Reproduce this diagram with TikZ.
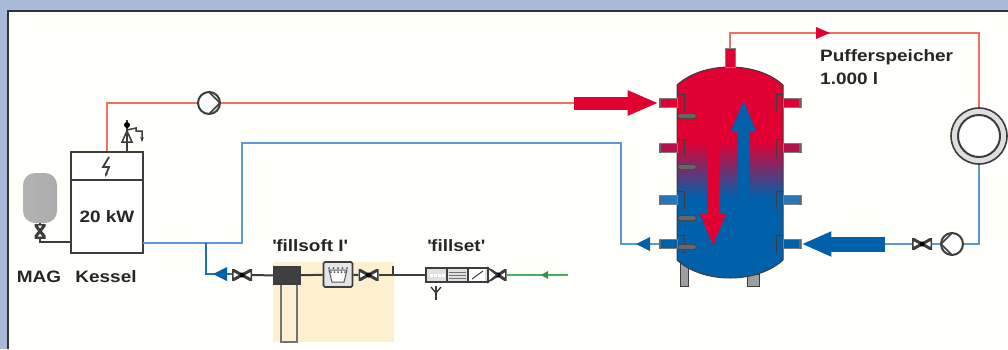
\documentclass[tikz,border=0pt]{standalone}
\usepackage{fontspec}
\setmainfont{Liberation Sans}[FakeStretch=1.15]
\usepackage{tikz}
\usetikzlibrary{shapes, arrows.meta, positioning, backgrounds}
\definecolor{framecol}{RGB}{168,186,216}
\definecolor{creamcol}{RGB}{253,240,207}
\definecolor{linegray}{RGB}{62,60,60}
\definecolor{hotline}{RGB}{240,112,100}
\definecolor{coldline}{RGB}{92,152,212}
\definecolor{hotfill}{RGB}{224,0,50}
\definecolor{coldfill}{RGB}{0,96,170}
\definecolor{greenline}{RGB}{70,180,95}
\tikzstyle{label} = [font=\bfseries\fontsize{16.5}{19}\selectfont, text=black!85, inner sep=0pt]
\tikzstyle{box} = [rectangle, inner sep=0pt, draw=linegray, line width=1.6pt, fill=white]
\tikzstyle{pipe} = [draw=linegray, line width=2pt]
\tikzstyle{hot} = [draw=hotline, line width=1.6pt]
\tikzstyle{cold} = [draw=coldline, line width=1.6pt]
\tikzstyle{port} = [rectangle, minimum width=18pt, minimum height=9pt, inner sep=0pt, draw=gray, line width=.7pt]
\tikzstyle{sleeve} = [rectangle, rounded corners=1.5pt, minimum width=18pt, minimum height=5pt, inner sep=0pt, fill=gray!80!black, draw=linegray, line width=.5pt]
\tikzstyle{foot} = [rectangle, inner sep=0pt, fill=gray!75, draw=linegray, line width=1pt]
\tikzstyle{valve} = [rectangle, minimum width=20pt, minimum height=11pt, inner sep=0pt, path picture={
    \draw[linegray, line width=3pt, fill=white] (path picture bounding box.south west) -- (path picture bounding box.north east) -- (path picture bounding box.south east) -- (path picture bounding box.north west) -- cycle;
    \fill[black] (path picture bounding box.center) circle (2.5pt);}]
\tikzstyle{vvalve} = [rectangle, minimum width=11pt, minimum height=14pt, inner sep=0pt, path picture={
    \draw[linegray, line width=3pt] (path picture bounding box.south west) -- (path picture bounding box.north east) -- (path picture bounding box.north west) -- (path picture bounding box.south east) -- cycle;}]
\tikzstyle{pumpr} = [circle, minimum size=22pt, inner sep=0pt, draw=linegray, line width=2pt, fill=white, path picture={
    \draw[linegray, line width=1.5pt] (path picture bounding box.north) -- (path picture bounding box.east) -- (path picture bounding box.south);}]
\tikzstyle{pumpl} = [circle, minimum size=22pt, inner sep=0pt, draw=linegray, line width=2pt, fill=white, path picture={
    \draw[linegray, line width=1.5pt] (path picture bounding box.north) -- (path picture bounding box.west) -- (path picture bounding box.south);}]
\tikzstyle{coil} = [circle, inner sep=0pt, draw=linegray, line width=1.6pt, fill=white]

\begin{document}
\begin{tikzpicture}[x=1pt, y=-1pt]
    \useasboundingbox (0, 0) rectangle (1008, 349);
    \fill[framecol] (0, 0) rectangle (1008, 349);
    \fill[white!99!yellow] (8, 11) rectangle (1008, 349);
    \draw[black!80, line width=1.5pt] (8, 349) -- (8, 11) -- (1008, 11);
    \fill[creamcol] (273, 262) rectangle (394, 342);

    % boiler and vessel
    \node (boilertop) [box, minimum width=72pt, minimum height=28pt] at (107, 166) {};
    \node (boilerbody) [box, label, draw=linegray, minimum width=72pt, minimum height=73pt] at (107, 216.5) {20 kW};
    \node (vessel) [rectangle, rounded corners=12pt, minimum width=34pt, minimum height=50pt, left color=gray!60, middle color=gray!25, right color=gray!65] at (40, 198) {};
    \node (magvalve) [vvalve] at (40, 231) {};
    \node (maglabel) [label] at (39, 277) {MAG};
    \node (kessellabel) [label] at (106, 277) {Kessel};
    \coordinate (magin) at (71, 242);
    \draw [pipe] (vessel) -- (magvalve);
    \draw [pipe] (magvalve) |- (magin);
    \draw [linegray, line width=1.8pt, -{Stealth[length=4pt]}] (109, 157) -- (103, 167) -- (109, 167) -- (105, 177);

    % vent on the boiler
    \coordinate (ventbase) at (127, 152);
    \coordinate (ventfoot) at (127, 142);
    \coordinate (venttop) at (127, 120);
    \coordinate (ventbend) at (142, 131);
    \coordinate (venttip) at (142, 142);
    \draw [pipe] (ventbase) -- (ventfoot);
    \draw [linegray, line width=1.5pt, fill=white] (122, 142) -- (132, 142) -- (127, 131) -- cycle;
    \draw [pipe] (ventfoot) -- (venttop);
    \fill [black] (127, 125) circle (3pt);
    \draw [linegray, line width=1.5pt, -{Stealth[length=5pt]}] (127, 130) -- (136, 128) -- (136, 131) -- (ventbend) -- (venttip);

    % storage tank
    \node (footl) [foot, minimum width=8pt, minimum height=26pt] at (684, 273) {};
    \node (footr) [foot, minimum width=12pt, minimum height=12pt] at (753, 280) {};
    \begin{scope}
        \clip (677, 85) .. controls (690, 73) and (710, 67) .. (730, 67) .. controls (750, 67) and (770, 73) .. (783, 85) -- (783, 260) .. controls (770, 272) and (750, 278) .. (730, 278) .. controls (710, 278) and (690, 272) .. (677, 260) -- cycle;
        \fill[hotfill] (670, 60) rectangle (790, 142);
        \shade[top color=hotfill, middle color=hotfill!50!gray, bottom color=coldfill] (670, 142) rectangle (790, 198);
        \fill[coldfill] (670, 198) rectangle (790, 285);
    \end{scope}
    \draw[linegray, line width=1pt] (677, 85) .. controls (690, 73) and (710, 67) .. (730, 67) .. controls (750, 67) and (770, 73) .. (783, 85) -- (783, 260) .. controls (770, 272) and (750, 278) .. (730, 278) .. controls (710, 278) and (690, 272) .. (677, 260) -- cycle;
    \node (topstub) [port, fill=hotfill, minimum width=10pt, minimum height=19pt] at (730, 57.5) {};

    \node (portl1) [port, fill=hotfill] at (668, 103) {};
    \node (portl2) [port, fill=hotfill!80!coldfill] at (668, 148) {};
    \node (portl3) [port, fill=coldline!40!coldfill] at (668, 200) {};
    \node (portl4) [port, fill=coldfill] at (668, 244) {};
    \node (portr1) [port, fill=hotfill] at (792, 103) {};
    \node (portr2) [port, fill=hotfill!80!coldfill] at (792, 148) {};
    \node (portr3) [port, fill=coldline!40!coldfill] at (792, 200) {};
    \node (portr4) [port, fill=coldfill] at (792, 244) {};

    \foreach \y in {103, 148, 200, 244} {
        \draw [linegray, line width=1pt] (677, \y-9) -- (684, \y-9) -- (684, \y+9);
        \draw [linegray, line width=1pt] (783, \y-9) -- (776, \y-9) -- (776, \y+9);
        \draw [gray!80!black, line width=2pt] (660, \y-4.5) -- (660, \y+4.5);
        \draw [gray!80!black, line width=2pt] (800, \y-4.5) -- (800, \y+4.5);
    }
    \node (sleeve1) [sleeve] at (687, 116) {};
    \node (sleeve2) [sleeve] at (687, 167) {};
    \node (sleeve3) [sleeve] at (687, 218) {};
    \node (sleeve4) [sleeve] at (687, 247) {};

    \coordinate (downstart) at (713, 142);
    \coordinate (downend) at (713, 247);
    \coordinate (upstart) at (743.5, 198);
    \coordinate (upend) at (743.5, 99);
    \draw [hotfill, line width=12pt, -{Triangle[length=33pt, width=23pt]}] (downstart) -- (downend);
    \draw [coldfill, line width=11pt, -{Triangle[length=33pt, width=23pt]}] (upstart) -- (upend);

    % hot circuit
    \node (pumphot) [pumpr] at (209, 103) {};
    \coordinate (hotin) at (574, 103);
    \coordinate (hotarrow) at (830, 33);
    \node (coilouter) [coil, fill=gray!25, minimum size=56pt] at (979, 136) {};
    \node (coilinner) [coil, line width=2pt, minimum size=42pt] at (979, 136) {};
    \coordinate (coiltop) at (979, 33);
    \draw [hot] (boilertop.north) |- (pumphot);
    \draw [hot] (pumphot) -- (hotin);
    \draw [hotfill, line width=13pt, -{Triangle[length=31pt, width=23pt]}] (hotin) -- (portl1.west);
    \draw [hot] (topstub.north) |- (hotarrow);
    \draw [hot] (hotarrow) -- (coiltop) -- (coilouter.north);
    \fill [hotfill] (816, 27) -- (830, 33) -- (816, 39) -- cycle;
    \node (pufferlabel) [label, anchor=west] at (820, 57) {Pufferspeicher};
    \node (volumelabel) [label, anchor=west] at (820, 79) {1.000 l};

    % cold circuit
    \node (pumpcold) [pumpl] at (952, 244) {};
    \node (valvecold) [valve] at (922, 244) {};
    \coordinate (coldin) at (885, 244);
    \coordinate (coldturn) at (979, 244);
    \draw [cold] (coilouter.south) -- (coldturn) -- (pumpcold);
    \draw [cold] (pumpcold) -- (valvecold);
    \draw [cold] (valvecold) -- (coldin);
    \draw [coldfill, line width=15pt, -{Triangle[length=30pt, width=23pt]}] (coldin) -- (portr4.east);

    \coordinate (boilerout) at (143, 243);
    \coordinate (tee) at (206, 243);
    \coordinate (riser) at (242, 243);
    \coordinate (riserend) at (621, 143);
    \coordinate (returnend) at (621, 244);
    \draw [cold] (boilerout) -- (riser) |- (riserend) -- (returnend) -- (portl4.west);
    \fill [coldfill] (636, 244) -- (650, 237) -- (650, 251) -- cycle;
    \draw [cold, draw=coldfill!70!coldline] (tee) -- (206, 274) -- (232, 274);
    \fill [coldfill] (213, 274) -- (227, 267) -- (227, 281) -- cycle;

    % fill line
    \node (fillvalvea) [valve] at (242, 275) {};
    \node (softtube) [box, fill=none, draw=gray!90!black, line width=2pt, minimum width=16pt, minimum height=58pt] at (288.5, 313) {};
    \node (softhead) [box, fill=black!75, minimum width=26pt, minimum height=17pt] at (287, 275.5) {};
    \node (softmeter) [box, rounded corners=1.5pt, fill=black!10, minimum width=29pt, minimum height=25pt] at (338, 274.5) {};
    \node (fillvalveb) [valve] at (368.5, 275) {};
    \node (filltick) [inner sep=0pt, minimum width=2pt, minimum height=9pt, fill=linegray] at (393, 270.5) {};
    \node (setbox) [box, fill=black!12, minimum width=62pt, minimum height=14pt] at (457, 275) {};
    \node (fillvalvec) [valve, minimum width=17pt] at (498, 275) {};
    \coordinate (waterin) at (568, 275);
    \coordinate (setdrain) at (436, 286);
    \node (softlabel) [label] at (310, 246) {\textquotesingle fillsoft I\textquotesingle};
    \node (setlabel) [label] at (456, 246) {\textquotesingle fillset\textquotesingle};

    \draw [pipe] (fillvalvea) -- (softhead);
    \draw [pipe] (softhead) -- (softmeter);
    \draw [pipe] (softmeter) -- (fillvalveb);
    \draw [pipe] (fillvalveb) -- (setbox);
    \draw [draw=greenline, line width=1.6pt] (fillvalvec) -- (waterin);
    \fill [greenline!80!black] (541, 275) -- (548, 271) -- (548, 279) -- cycle;

    % meter and set details
    \draw [black!65, line width=1pt, fill=white] (329, 270) -- (347, 270) -- (344, 282) -- (332, 282) -- cycle;
    \foreach \i in {0, ..., 4} {
        \fill [black!70] (329+\i*4.5, 268) circle (1pt);
        \fill [black!70] (331+\i*3.5, 272) circle (1pt);
    }
    \draw [linegray, line width=1.8pt] (447, 268) -- (447, 282);
    \draw [linegray, line width=1.8pt] (468, 268) -- (468, 282);
    \draw [white, line width=3pt, dash pattern=on 3pt off 1pt] (430, 275) -- (445, 275);
    \draw [black!55, line width=.8pt] (449, 272) -- (466, 272) (449, 275) -- (466, 275) (449, 278) -- (466, 278);
    \fill [white] (469, 269) rectangle (485, 281);
    \draw [linegray, line width=1pt] (472, 279) -- (483, 271);
    \draw [linegray, line width=1.5pt, fill=white] (488, 268) -- (497, 275) -- (488, 282) -- cycle;
    \draw [linegray, line width=1.4pt] (setdrain) -- (436, 293) -- (436, 300);
    \draw [linegray, line width=1.4pt] (431, 287) -- (436, 293) -- (441, 287);
\end{tikzpicture}
\end{document}
